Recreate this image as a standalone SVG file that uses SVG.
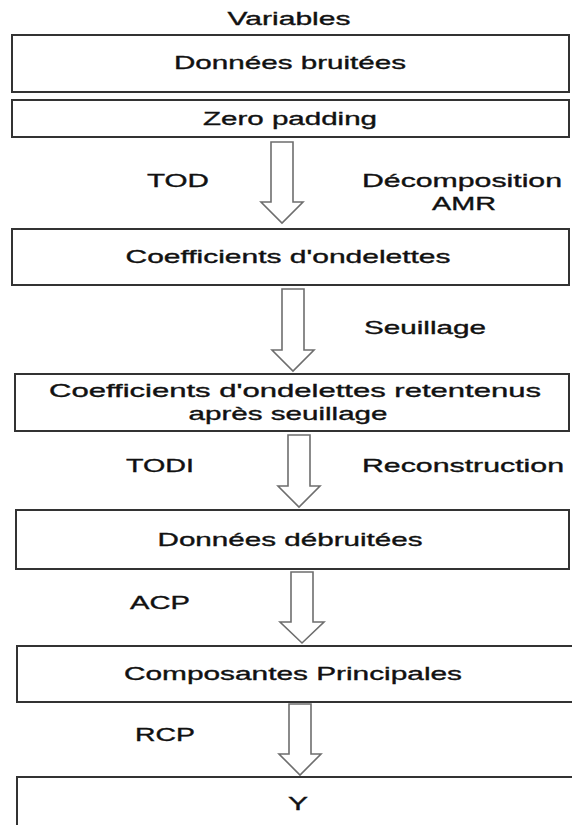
<svg xmlns="http://www.w3.org/2000/svg" width="572" height="825" viewBox="0 0 572 825">
<style>
.box{fill:#fff;stroke:#333;stroke-width:2}
.arr{fill:#fff;stroke:#6e6e6e;stroke-width:1.6;stroke-linejoin:miter}
text{font-family:"Liberation Sans",Arial,sans-serif;font-size:18.5px;fill:#111;stroke:#111;stroke-width:0.35}
.c{text-anchor:middle}
</style>
<rect width="572" height="825" fill="#fff"/>
<g id="connectors">
<path class="arr" d="M271,142 H293 V202 H303 L282,223 L261,202 H271 Z"/>
<path class="arr" d="M282,289 H304 V350 H314 L293,371 L272,350 H282 Z"/>
<path class="arr" d="M288,435 H310 V486 H320 L299,507 L278,486 H288 Z"/>
<path class="arr" d="M291,572 H313 V622 H324 L302,643 L280,622 H291 Z"/>
<path class="arr" d="M289,704 H311 V754 H321 L300,775 L279,754 H289 Z"/>
</g>
<g id="lbl-variables"><text class="c" x="289" y="25" textLength="123" lengthAdjust="spacingAndGlyphs">Variables</text></g>
<g id="n1"><rect class="box" x="12" y="35" width="557" height="57"/><text class="c" x="290" y="69" textLength="232" lengthAdjust="spacingAndGlyphs">Données bruitées</text></g>
<g id="n2"><rect class="box" x="12" y="100" width="557" height="37"/><text class="c" x="290" y="125" textLength="174" lengthAdjust="spacingAndGlyphs">Zero padding</text></g>
<g id="lbl-tod"><text x="147" y="187" textLength="62" lengthAdjust="spacingAndGlyphs">TOD</text></g>
<g id="lbl-decomp"><text x="362" y="187" textLength="200" lengthAdjust="spacingAndGlyphs">Décomposition</text><text class="c" x="464" y="210" textLength="64" lengthAdjust="spacingAndGlyphs">AMR</text></g>
<g id="n3"><rect class="box" x="12" y="229" width="557" height="56"/><text class="c" x="288" y="263" textLength="325" lengthAdjust="spacingAndGlyphs">Coefficients d'ondelettes</text></g>
<g id="lbl-seuillage"><text x="364" y="334" textLength="122" lengthAdjust="spacingAndGlyphs">Seuillage</text></g>
<g id="n4"><rect class="box" x="15" y="374" width="554" height="57"/><text class="c" x="295" y="397" textLength="492" lengthAdjust="spacingAndGlyphs">Coefficients d'ondelettes retentenus</text><text class="c" x="288" y="420" textLength="199" lengthAdjust="spacingAndGlyphs">après seuillage</text></g>
<g id="lbl-todi"><text x="126" y="472" textLength="68" lengthAdjust="spacingAndGlyphs">TODI</text></g>
<g id="lbl-recon"><text x="362" y="472" textLength="202" lengthAdjust="spacingAndGlyphs">Reconstruction</text></g>
<g id="n5"><rect class="box" x="16" y="510" width="553" height="59"/><text class="c" x="290" y="546" textLength="265" lengthAdjust="spacingAndGlyphs">Données débruitées</text></g>
<g id="lbl-acp"><text x="130" y="609" textLength="60" lengthAdjust="spacingAndGlyphs">ACP</text></g>
<g id="n6"><rect class="box" x="17" y="646" width="560" height="56"/><text class="c" x="293" y="680" textLength="338" lengthAdjust="spacingAndGlyphs">Composantes Principales</text></g>
<g id="lbl-rcp"><text x="135" y="741" textLength="60" lengthAdjust="spacingAndGlyphs">RCP</text></g>
<g id="n7"><rect class="box" x="17" y="777" width="560" height="60"/><text class="c" x="298" y="810" textLength="20" lengthAdjust="spacingAndGlyphs">Y</text></g>
</svg>
